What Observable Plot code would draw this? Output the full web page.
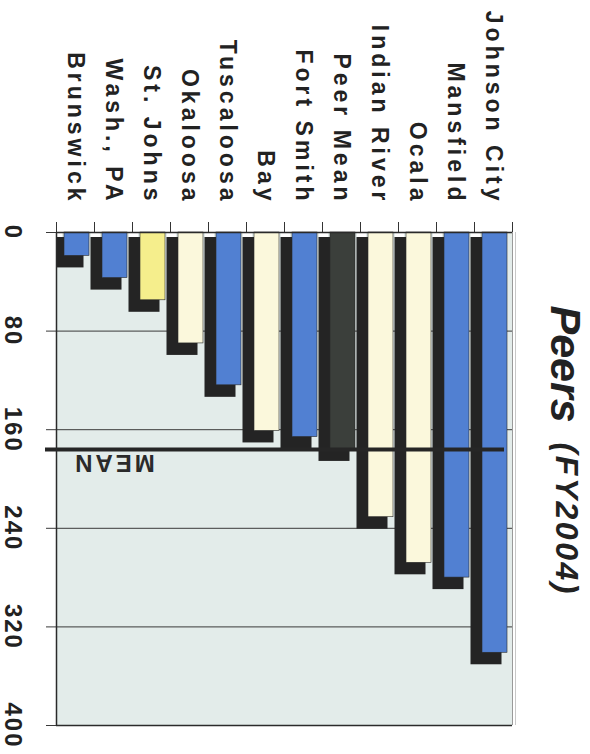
<!DOCTYPE html>
<html>
<head>
<meta charset="utf-8">
<script src="https://cdn.jsdelivr.net/npm/d3@7"></script>
<script src="https://cdn.jsdelivr.net/npm/@observablehq/plot@0.6"></script>
<style>
  html, body { margin: 0; padding: 0; background: #ffffff; }
  #chart svg { display: block; }
</style>
</head>
<body>
<div id="chart"></div>
<script>
// ---- data ----
const categories = ["Brunswick", "Wash., PA", "St. Johns", "Okaloosa", "Tuscaloosa", "Bay",
                    "Fort Smith", "Peer Mean", "Indian River", "Ocala", "Mansfield", "Johnson City"];
const values = [19, 37, 55, 90, 124, 161, 166, 176, 231, 268, 280, 341];
const kinds = ["blue", "blue", "yellow", "cream", "blue", "cream",
               "blue", "mean", "cream", "cream", "blue", "blue"];
const meanValue = 176;
const meanLabel = "MEAN";
const yTicks = [0, 80, 160, 240, 320, 400];
const titleMain = "Peers";
const titleSub = "(FY2004)";

const rows = categories.map((c, i) => ({category: c, value: values[i], kind: kinds[i]}));

const font = "'Liberation Sans', Arial, Helvetica, sans-serif";
const band = 38;

const chart = Plot.plot({
  width: 590,
  height: 754,
  marginTop: 232,
  marginBottom: 29,
  marginLeft: 56,
  marginRight: 78,
  style: {fontFamily: font, background: "transparent"},
  x: {type: "band", domain: categories, padding: 0, axis: null},
  y: {domain: [0, 400], reverse: true, axis: null},
  color: {
    domain: ["blue", "cream", "yellow", "mean"],
    range: ["#5180d2", "#fbf8dc", "#f5ee8c", "#3b3f3b"]
  },
  marks: [
    // plot background
    Plot.frame({fill: "#e3ecea", stroke: null}),
    // grid lines + left ticks
    Plot.ruleY(yTicks, {stroke: "#3a3a3a", strokeWidth: 1, insetLeft: -10}),
    // top tick marks at band boundaries
    Plot.ruleX(categories, {x: d => d, dx: -band / 2, y1: d => 0, y2: d => 0, insetTop: -10, stroke: "#333", strokeWidth: 1}),
    Plot.ruleX(categories.slice(-1), {x: d => d, dx: band / 2, y1: d => 0, y2: d => 0, insetTop: -10, stroke: "#333", strokeWidth: 1}),
    // shadows
    Plot.barY(rows, {x: "category", y1: d => 0, y2: "value", fill: "#242424",
      insetLeft: -3.5, insetRight: 10.5, insetTop: -7, dy: 12, clip: true}),
    // coloured bars
    Plot.barY(rows, {x: "category", y1: d => 0, y2: "value", fill: "kind",
      insetLeft: 8, insetRight: 5, stroke: "#2a2a2a", strokeWidth: 0.6}),
    // small white notches at the top of each band
    Plot.barY(rows, {x: "category", y1: d => 0, y2: d => 0, fill: "#ffffff",
      insetLeft: -3, insetRight: 32, insetBottom: -5, clip: true}),
    // mean line
    Plot.ruleY([meanValue], {stroke: "#262626", strokeWidth: 4, insetLeft: -11, insetRight: 8}),
    Plot.text([meanLabel], {x: () => categories[1], y: () => meanValue, text: d => d,
      rotate: 180, dy: 13, fontSize: 24, fontWeight: 900, fill: "#2a2a2a",
      textAnchor: "middle", lineAnchor: "middle"}),
    // frame lines
    Plot.ruleY([0, 400], {stroke: "#2a2a2a", strokeWidth: 1.5}),
    Plot.ruleX([0], {x: () => categories[0], dx: -band / 2, stroke: "#2a2a2a", strokeWidth: 1.5}),
    Plot.ruleX([0], {x: () => categories[categories.length - 1], dx: band / 2, stroke: "#9a9a9a", strokeWidth: 1}),
    Plot.ruleX([0], {x: () => categories[categories.length - 1], dx: band / 2 + 3, stroke: "#c8c8c8", strokeWidth: 1}),
    // value tick labels (rotated)
    Plot.text(yTicks, {y: d => d, text: d => String(d), frameAnchor: "left", dx: -44,
      rotate: 90, textAnchor: "middle", lineAnchor: "middle",
      fontSize: 24, fontWeight: "bold", fill: "#222"}),
    // category labels (rotated)
    Plot.text(categories, {x: d => d, text: d => d, frameAnchor: "top", dy: -28,
      rotate: 90, textAnchor: "end", lineAnchor: "middle",
      fontSize: 23, fontWeight: "bold", fill: "#222"}),
    // title (rotated)
    Plot.text([titleMain], {text: d => d, frameAnchor: "top-right", dx: 52, dy: 73,
      rotate: 90, textAnchor: "start", lineAnchor: "middle",
      fontSize: 43, fontWeight: "bold", fontStyle: "italic", fill: "#222"}),
    Plot.text([titleSub], {text: d => d, frameAnchor: "top-right", dx: 54, dy: 210,
      rotate: 90, textAnchor: "start", lineAnchor: "middle",
      fontSize: 32, fontWeight: "bold", fontStyle: "italic", fill: "#222"})
  ]
});

// letter spacing (the scanned chart uses widely tracked type)
const tickStrings = yTicks.map(String);
chart.querySelectorAll("text").forEach(t => {
  const s = t.textContent;
  let ls = null;
  if (categories.includes(s)) ls = 4;
  else if (tickStrings.includes(s)) ls = 2;
  else if (s === meanLabel) ls = 3;
  else if (s === titleSub) ls = 2.5;
  if (ls !== null) t.style.letterSpacing = ls + "px";
});

document.getElementById("chart").append(chart);
</script>
</body>
</html>
